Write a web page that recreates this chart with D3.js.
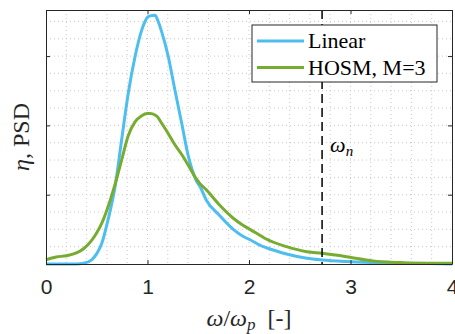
<!DOCTYPE html>
<html>
<head>
<meta charset="utf-8">
<script src="https://cdn.jsdelivr.net/npm/d3@7"></script>
<style>
  body { margin: 0; background: #fff; }
  svg { display: block; }
</style>
</head>
<body>
<div id="chart"></div>
<script>
// Values
const freq = [0, 0.1, 0.2, 0.3, 0.37, 0.45, 0.5, 0.55, 0.61, 0.68, 0.745, 0.81, 0.877, 0.943, 1.0, 1.025,
	1.074, 1.1, 1.14, 1.205, 1.27, 1.337, 1.4, 1.485, 1.517, 1.58, 1.71, 1.845, 1.94, 2.01, 2.14, 2.17, 2.37,
	2.57, 2.72, 2.96, 3.22, 3.49, 3.65, 4.0];
const linear = [0, 0, 0, 0, 0.01, 0.06, 0.15, 0.3, 0.63, 1.11, 1.79, 2.46, 2.99, 3.375, 3.56, 3.58,
	3.59, 3.52, 3.35, 2.99, 2.51, 2.03, 1.57, 1.19, 1.12, 0.92, 0.7, 0.5, 0.4, 0.35, 0.25, 0.235, 0.144,
	0.082, 0.058, 0.036, 0.022, 0.012, 0.01, 0];
const hosm = [0.06, 0.1, 0.12, 0.16, 0.22, 0.34, 0.45, 0.59, 0.82, 1.15, 1.5, 1.85, 2.05, 2.14, 2.17, 2.17,
	2.15, 2.12, 2.03, 1.88, 1.72, 1.58, 1.43, 1.22, 1.16, 1.07, 0.85, 0.66, 0.56, 0.5, 0.385, 0.36, 0.25,
	0.177, 0.154, 0.106, 0.043, 0.02, 0.012, 0.01];
const xTicks = [0, 1, 2, 3, 4];
const yTicks = [0, 1, 2, 3];
const omegaN = 2.72;
const seriesNames = ['Linear', 'HOSM, M=3'];
const seriesColors = ['#4DBEEE', '#77AC30'];

const width = 455;
const height = 334;
const margin = { top: 10, right: 3, bottom: 70, left: 46 };
const innerW = width - margin.left - margin.right;
const innerH = height - margin.top - margin.bottom;

const svg = d3.select('#chart')
	.append('svg')
	.attr('width', width)
	.attr('height', height);

const g = svg.append('g')
	.attr('transform', `translate(${margin.left},${margin.top})`);

const x = d3.scaleLinear().domain([0, 4]).range([0, innerW]);
const y = d3.scaleLinear().domain([0, 3.665]).range([innerH, 0]);

// Dotted grid (major and minor look the same)
const xGrid = d3.range(0, 4.001, 0.2);
const yGrid = d3.range(0, 3.665, 0.25);
g.append('g').selectAll('line')
	.data(xGrid.slice(1, -1))
	.join('line')
	.attr('x1', (d) => x(d)).attr('x2', (d) => x(d))
	.attr('y1', 0).attr('y2', innerH)
	.attr('stroke', '#c8c8c8')
	.attr('stroke-dasharray', '1,3');
g.append('g').selectAll('line')
	.data(yGrid.slice(1))
	.join('line')
	.attr('x1', 0).attr('x2', innerW)
	.attr('y1', (d) => y(d)).attr('y2', (d) => y(d))
	.attr('stroke', '#c8c8c8')
	.attr('stroke-dasharray', '1,3');

// Curves
const line = (vals) => d3.line()
	.x((d, i) => x(freq[i]))
	.y((d) => y(d))
	.curve(d3.curveMonotoneX)(vals);

[linear, hosm].forEach((vals, i) => {
	g.append('path')
		.attr('d', line(vals))
		.attr('fill', 'none')
		.attr('stroke', seriesColors[i])
		.attr('stroke-width', 3)
		.attr('stroke-linejoin', 'round');
});

// omega_n marker
g.append('line')
	.attr('x1', x(omegaN)).attr('x2', x(omegaN))
	.attr('y1', 0).attr('y2', innerH)
	.attr('stroke', '#000')
	.attr('stroke-width', 1.5)
	.attr('stroke-dasharray', '9,5');

const wn = g.append('text')
	.attr('x', x(omegaN) + 8)
	.attr('y', 142)
	.attr('font-family', 'Liberation Serif, serif')
	.attr('font-style', 'italic')
	.attr('font-size', 22)
	.attr('fill', '#000');
wn.append('tspan').text('ω');
wn.append('tspan').attr('font-size', 15).attr('dy', 4).text('n');

// Axes box and ticks
const axisColor = '#262626';
const xAxis = g.append('g')
	.attr('transform', `translate(0,${innerH})`)
	.call(d3.axisBottom(x).tickValues(xTicks).tickSizeInner(-4).tickSizeOuter(0).tickPadding(15)
		.tickFormat(d3.format('d')));
const xTop = g.append('g')
	.call(d3.axisTop(x).tickValues(xTicks).tickSizeInner(-4).tickSizeOuter(0).tickFormat(''));
const yAxis = g.append('g')
	.call(d3.axisLeft(y).tickValues(yTicks).tickSizeInner(-4).tickSizeOuter(0).tickFormat(''));
const yRight = g.append('g')
	.attr('transform', `translate(${innerW},0)`)
	.call(d3.axisRight(y).tickValues(yTicks).tickSizeInner(-4).tickSizeOuter(0).tickFormat(''));

[xAxis, xTop, yAxis, yRight].forEach((a) => {
	a.select('.domain').attr('stroke', axisColor);
	a.selectAll('.tick line').attr('stroke', axisColor);
});
xAxis.selectAll('.tick text')
	.attr('font-family', 'Liberation Sans, Arial, sans-serif')
	.attr('font-size', 21)
	.attr('fill', axisColor);

// Axis labels
const xl = svg.append('text')
	.attr('x', margin.left + innerW / 2)
	.attr('y', 326)
	.attr('text-anchor', 'middle')
	.attr('font-family', 'Liberation Serif, serif')
	.attr('font-size', 24)
	.attr('fill', axisColor);
xl.append('tspan').attr('font-style', 'italic').text('ω');
xl.append('tspan').text('/');
xl.append('tspan').attr('font-style', 'italic').text('ω');
xl.append('tspan').attr('font-style', 'italic').attr('font-size', 17).attr('dy', 4).text('p');
xl.append('tspan').attr('dy', -4).text('\u00a0\u00a0[-]');

const yl = svg.append('text')
	.attr('transform', `translate(29,${margin.top + 127}) rotate(-90)`)
	.attr('text-anchor', 'middle')
	.attr('font-family', 'Liberation Serif, serif')
	.attr('font-size', 24)
	.attr('fill', axisColor);
yl.append('tspan').attr('font-style', 'italic').text('η');
yl.append('tspan').text(',\u00a0PSD');

// Legend
const legend = svg.append('g');
legend.append('rect')
	.attr('x', 252).attr('y', 25)
	.attr('width', 185).attr('height', 57)
	.attr('fill', '#fff')
	.attr('stroke', axisColor);
seriesNames.forEach((name, i) => {
	const ly = 41 + i * 26.5;
	legend.append('line')
		.attr('x1', 257).attr('x2', 304)
		.attr('y1', ly).attr('y2', ly)
		.attr('stroke', seriesColors[i])
		.attr('stroke-width', 3);
	legend.append('text')
		.attr('x', 308).attr('y', ly + 7)
		.attr('font-family', 'Liberation Serif, serif')
		.attr('font-size', 22)
		.attr('fill', '#000')
		.text(name);
});
</script>
</body>
</html>
